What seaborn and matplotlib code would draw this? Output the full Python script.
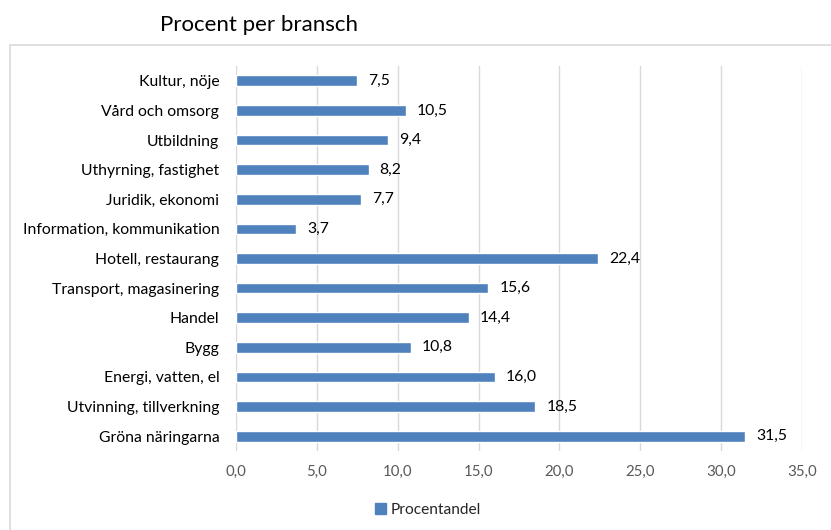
import matplotlib
matplotlib.use("Agg")
import matplotlib.pyplot as plt
import seaborn as sns
import pandas as pd
from matplotlib.patches import Rectangle, Patch

# ── Data ──────────────────────────────────────────────────────
branscher = [
    "Kultur, nöje", "Vård och omsorg", "Utbildning", "Uthyrning, fastighet",
    "Juridik, ekonomi", "Information, kommunikation", "Hotell, restaurang",
    "Transport, magasinering", "Handel", "Bygg", "Energi, vatten, el",
    "Utvinning, tillverkning", "Gröna näringarna",
]
procent = [7.5, 10.5, 9.4, 8.2, 7.7, 3.7, 22.4, 15.6, 14.4, 10.8, 16.0, 18.5, 31.5]
xticks = [0, 5, 10, 15, 20, 25, 30, 35]

df = pd.DataFrame({"bransch": branscher, "procent": procent})

# ── Style ─────────────────────────────────────────────────────
sns.set_style("white")
plt.rcParams["font.family"] = ["Lato", "DejaVu Sans"]
blue = "#4F81BD"
grid_col = "#D9D9D9"

fig = plt.figure(figsize=(8.31, 5.30), dpi=100)
ax = fig.add_axes([236 / 831, 1 - 451 / 530, 566 / 831, (451 - 66) / 530])

sns.barplot(data=df, x="procent", y="bransch", orient="h", color=blue,
            width=0.36, saturation=1, ax=ax, zorder=3)

ax.set_xlim(0, 35)
ax.set_ylim(12.5, -0.5)
ax.set_xticks(xticks)
ax.set_xticklabels([f"{t:.1f}".replace(".", ",") for t in xticks],
                   color="#595959", fontsize=10.8)
ax.tick_params(axis="y", labelsize=11.3, labelcolor="#000000", length=0, pad=12)
ax.tick_params(axis="x", length=0, pad=10)
ax.set_xlabel("")
ax.set_ylabel("")
ax.xaxis.grid(True, color=grid_col, linewidth=1, zorder=0)
ax.yaxis.grid(False)
for s in ax.spines.values():
    s.set_visible(False)

ax.bar_label(ax.containers[0],
             labels=[f"{v:.1f}".replace(".", ",") for v in procent],
             padding=8, fontsize=11.3, color="#000000")

# title and frame
fig.text(160 / 831, 1 - 25 / 530, "Procent per bransch", fontsize=16,
         va="center", ha="left", color="#000000")
fig.patches.append(Rectangle((10 / 831, -0.1), 1.2, 1 - 45 / 530 + 0.1,
                             transform=fig.transFigure, fill=False,
                             edgecolor=grid_col, linewidth=1.2))

# legend
fig.legend(handles=[Patch(color=blue, label="Procentandel")],
           loc="center", bbox_to_anchor=(428 / 831, 1 - 510 / 530),
           frameon=False, fontsize=11.2, handlelength=0.7, handleheight=0.7,
           handletextpad=0.3)

fig.savefig("out.png", dpi=100)
